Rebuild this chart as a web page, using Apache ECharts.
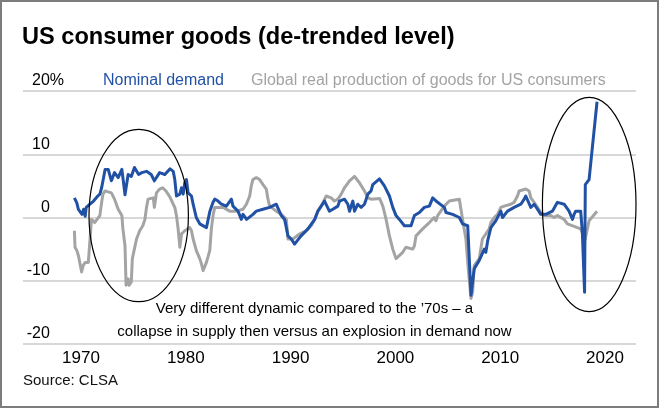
<!DOCTYPE html>
<html>
<head>
<meta charset="utf-8">
<script src="https://cdn.jsdelivr.net/npm/echarts@6/dist/echarts.min.js"></script>
<style>
  html, body { margin: 0; padding: 0; background: #ffffff; }
  #chart { width: 660px; height: 409px; }
</style>
</head>
<body>
<div id="chart"></div>
<script>
// ---- Data ----
const titleText = 'US consumer goods (de-trended level)';
const seriesNames = ['Nominal demand', 'Global real production of goods for US consumers'];
const xTickValues = [1970, 1980, 1990, 2000, 2010, 2020];
const yTickMin = -20, yTickMax = 20, yTickStep = 10;

const nominalYears = [
  1969.37, 1969.6, 1969.75, 1969.9, 1970.1, 1970.25, 1970.4, 1970.5, 1970.85, 1971.2,
  1971.6, 1971.8, 1971.97, 1972.3, 1972.6, 1972.9, 1973.2, 1973.55, 1973.9, 1974.2,
  1974.5, 1974.8, 1975.1, 1975.5, 1975.8, 1976.25, 1976.7, 1977.0, 1977.5, 1978.0,
  1978.5, 1978.8, 1978.95, 1979.11, 1979.43, 1979.59, 1979.75, 1979.9, 1980.06, 1980.22,
  1980.54, 1980.7, 1981.0, 1981.33, 1981.97, 1982.3, 1982.6, 1982.76, 1983.08, 1983.4,
  1983.87, 1984.35, 1984.5, 1984.98, 1985.3, 1985.46, 1985.8, 1986.41, 1986.73, 1987.36,
  1988.0, 1988.63, 1988.8, 1989.11, 1989.43, 1989.75, 1990.06, 1990.38, 1990.54, 1991.0,
  1991.65, 1992.3, 1992.6, 1992.92, 1993.24, 1993.4, 1993.7, 1994.03, 1994.51, 1994.67,
  1995.14, 1995.46, 1995.62, 1995.94, 1996.1, 1996.41, 1996.73, 1996.9, 1997.05, 1997.37,
  1997.68, 1997.84, 1998.48, 1998.95, 1999.43, 1999.75, 2000.06, 2000.38, 2000.86, 2001.49,
  2001.81, 2002.29, 2002.76, 2003.24, 2003.56, 2004.03, 2004.67, 2004.83, 2005.46, 2006.1,
  2006.41, 2006.9, 2007.05, 2007.21, 2007.52, 2008.0, 2008.48, 2008.63, 2008.8, 2009.11,
  2009.59, 2010.06, 2010.22, 2010.7, 2011.33, 2011.49, 2011.97, 2012.29, 2012.44, 2012.92,
  2013.24, 2013.56, 2013.87, 2014.35, 2014.98, 2015.46, 2015.62, 2016.1, 2016.57, 2016.9,
  2017.05, 2017.2, 2017.68, 2017.84, 2018.05, 2018.12, 2018.48, 2019.24
];
const nominalValues = [
  3.1, 2.3, 1.3, 1.0, 0.5, 1.3, 0.2, 1.6, 2.1, 2.6,
  3.4, 3.7, 4.7, 7.6, 7.6, 5.8, 7.1, 6.3, 7.6, 3.6,
  6.8, 6.5, 7.9, 6.8, 7.1, 7.3, 6.8, 5.8, 7.1, 6.8,
  7.7, 7.3, 6.0, 3.4, 3.7, 4.7, 3.7, 5.5, 6.0, 3.9,
  3.4, 2.1, 0.0, -1.0, -1.6, 1.0, 2.4, 2.9, 2.6, 2.1,
  1.8, 2.9, 1.8, 1.0, -0.3, 0.5, -0.3, 0.5, 1.0, 1.3,
  1.6, 2.1, 1.8, 0.3, -0.3, -2.9, -3.4, -4.2, -4.5, -2.9,
  -1.8, -0.3, 1.0, 1.8, 2.6, 2.9, 1.0, 1.3, 1.8, 2.6,
  2.9, 2.1, 1.0, 2.6, 1.0, 2.1, 1.6, 1.3, 2.1, 3.7,
  4.2, 5.2, 6.1, 5.0, 3.4, 1.6, 0.3, -0.3, -1.3, -1.3,
  0.3, 0.8, 1.6, 1.8, 3.1, 2.4, 1.6, 0.8, 0.5, 0.0,
  -1.0, -1.3, -6.5, -12.3, -8.1, -6.8, -5.0, -5.5, -3.7, -1.6,
  -0.5, 1.0, 0.0, 1.0, 1.6, 1.3, 2.1, 2.9, 3.4, 1.6,
  2.1, 1.3, 0.5, 0.5, 1.0, 2.4, 2.6, 2.1, 1.0, -0.3,
  0.5, 1.0, 1.0, -2.4, -11.8, 5.2, 6.0, 18.3
];

const productionYears = [
  1969.37, 1969.43, 1969.6, 1969.75, 1970.06, 1970.2, 1970.4, 1970.7, 1970.86, 1971.0,
  1971.3, 1971.8, 1971.97, 1972.1, 1972.3, 1972.9, 1973.2, 1973.55, 1973.9, 1974.0,
  1974.2, 1974.3, 1974.5, 1974.6, 1974.8, 1974.9, 1975.3, 1975.6, 1975.9, 1976.1,
  1976.25, 1976.4, 1976.9, 1977.0, 1977.2, 1977.5, 1977.8, 1978.1, 1978.5, 1978.8,
  1978.95, 1979.11, 1979.27, 1979.43, 1979.59, 1979.9, 1980.38, 1980.54, 1980.7, 1981.0,
  1981.33, 1981.49, 1981.65, 1981.97, 1982.13, 1982.29, 1982.44, 1982.6, 1982.76, 1982.92,
  1983.56, 1984.19, 1984.83, 1985.46, 1985.78, 1986.1, 1986.25, 1986.4, 1986.73, 1987.05,
  1987.37, 1987.68, 1987.84, 1988.0, 1988.63, 1989.11, 1989.59, 1989.75, 1990.22, 1990.86,
  1991.49, 1991.97, 1992.3, 1992.6, 1992.92, 1993.4, 1993.87, 1994.19, 1994.51, 1994.83,
  1995.14, 1995.62, 1996.1, 1996.57, 1997.05, 1997.37, 1997.68, 1998.5, 1998.8, 1998.95,
  1999.11, 1999.43, 1999.75, 2000.06, 2000.7, 2001.0, 2001.65, 2001.81, 2001.97, 2002.6,
  2003.24, 2003.7, 2003.87, 2004.03, 2004.67, 2005.14, 2006.1, 2006.41, 2006.73, 2006.9,
  2007.21, 2007.37, 2007.52, 2008.0, 2008.3, 2008.95, 2009.11, 2009.43, 2009.75, 2010.06,
  2010.38, 2011.0, 2011.33, 2011.65, 2011.81, 2012.44, 2012.76, 2012.92, 2013.24, 2013.56,
  2013.87, 2014.19, 2014.83, 2015.14, 2015.46, 2016.1, 2016.41, 2016.57, 2017.37, 2017.68,
  2018.1, 2018.48, 2019.24
];
const productionValues = [
  -2.1, -4.7, -5.2, -6.0, -8.6, -7.6, -7.1, -7.1, -6.8, -0.3,
  -0.8, 0.3, 2.4, 3.7, 4.2, 3.9, 2.9, 1.3, 0.3, -1.8,
  -4.5, -10.7, -9.7, -10.7, -10.2, -6.5, -3.4, -2.1, -1.3, -0.3,
  1.6, 2.9, 3.1, 1.6, 3.9, 4.5, 4.7, 4.2, 3.2, 2.1,
  1.6, 0.3, -1.8, -4.7, -2.6, -2.1, -1.6, -2.1, -3.4, -5.2,
  -6.5, -7.3, -8.4, -7.1, -6.8, -5.2, -1.8, 0.3, 1.6, 1.8,
  1.6, 1.0, 1.0, 1.3, 2.1, 3.4, 5.0, 6.0, 6.3, 6.0,
  5.2, 4.5, 2.9, 1.8, 1.0, 0.5, -0.3, -3.4, -3.4, -2.6,
  -2.1, -1.3, -0.3, 1.0, 1.8, 3.4, 3.1, 2.6, 2.9, 3.7,
  4.7, 5.8, 6.5, 5.5, 4.2, 3.1, 2.9, 3.0, 1.8, 0.8,
  -0.3, -2.9, -5.0, -6.5, -5.5, -4.7, -5.0, -4.5, -2.9, -1.8,
  -0.8, 0.0, -0.5, 0.3, 1.8, 2.6, 2.9, -0.3, -3.4, -7.1,
  -12.8, -11.8, -7.6, -6.5, -3.4, -1.8, -0.8, 0.0, 0.5, 1.6,
  1.8, 2.1, 2.4, 3.4, 4.2, 4.5, 4.2, 3.1, 2.4, 1.6,
  0.8, 0.3, 0.3, 0.0, 0.3, -0.3, -1.0, -1.3, -1.6, -1.8,
  -3.5, -0.5, 1.0
];

const noteLines = [
  'Very different dynamic compared to the \u201970s \u2013 a',
  'collapse in supply then versus an explosion in demand now'
];
const sourceText = 'Source: CLSA';

// ---- Build ----
const zip = (xs, ys) => xs.map((x, i) => [x, ys[i]]);
const BLUE = '#2151a4';
const GREY = '#a4a4a4';
const FONT = "'Liberation Sans', Arial, sans-serif";

const chart = echarts.init(document.getElementById('chart'), null, { renderer: 'canvas' });

const option = {
  animation: false,
  backgroundColor: '#ffffff',
  textStyle: { fontFamily: FONT },
  title: {
    text: titleText,
    left: 22, top: 25, padding: 0,
    textStyle: { fontFamily: FONT, fontSize: 23.6, fontWeight: 'bold', color: '#000' }
  },
  legend: {
    left: 98, top: 73, padding: 0,
    itemWidth: 0, itemHeight: 0, itemGap: 22,
    icon: 'none',
    selectedMode: false,
    textStyle: { fontFamily: FONT, fontSize: 16 },
    data: [
      { name: seriesNames[0], textStyle: { color: BLUE } },
      { name: seriesNames[1], textStyle: { color: '#a3a3a3' } }
    ]
  },
  grid: { left: 23, right: 24, top: 91, bottom: 65 },
  xAxis: {
    type: 'value',
    min: 1964.466, max: 2022.958,
    axisLine: { show: false },
    axisTick: { show: false },
    splitLine: { show: false },
    axisLabel: {
      customValues: xTickValues,
      formatter: v => String(v),
      margin: 6,
      fontSize: 17, color: '#000', fontFamily: FONT
    }
  },
  yAxis: {
    type: 'value',
    min: yTickMin, max: yTickMax, interval: yTickStep,
    axisLine: { show: false },
    axisTick: { show: false },
    splitLine: { lineStyle: { color: '#cbcbcb', width: 1.5 } },
    axisLabel: {
      inside: true,
      margin: 41,
      align: 'right',
      verticalAlign: 'bottom',
      padding: [0, 0, 2, 0],
      fontSize: 16, color: '#000', fontFamily: FONT,
      formatter: v => v === yTickMax ? '{n|' + v + '%}' : '{n|' + v + '}{h|%}',
      rich: {
        n: { fontSize: 16, color: '#000', fontFamily: FONT },
        h: { fontSize: 16, color: 'rgba(0,0,0,0)', fontFamily: FONT }
      }
    }
  },
  series: [
    {
      name: seriesNames[1], type: 'line', symbol: 'none', showSymbol: false,
      data: zip(productionYears, productionValues),
      lineStyle: { color: GREY, width: 3, join: 'round' },
      itemStyle: { color: GREY }, z: 2
    },
    {
      name: seriesNames[0], type: 'line', symbol: 'none', showSymbol: false,
      data: zip(nominalYears, nominalValues),
      lineStyle: { color: BLUE, width: 3, join: 'round' },
      itemStyle: { color: BLUE }, z: 3
    }
  ],
  graphic: [
    { type: 'rect', shape: { x: 1, y: 1, width: 657, height: 406 }, style: { fill: null, stroke: '#7c7c7c', lineWidth: 2 }, silent: true, z: 100 },
    { type: 'ellipse', shape: { cx: 138.7, cy: 215.5, rx: 49.7, ry: 86.2 }, style: { fill: null, stroke: '#000', lineWidth: 1.2 }, silent: true, z: 50 },
    { type: 'ellipse', shape: { cx: 589.2, cy: 204.5, rx: 46.8, ry: 107.2 }, style: { fill: null, stroke: '#000', lineWidth: 1.2 }, silent: true, z: 50 },
    { type: 'text', x: 314.5, y: 309, style: { text: noteLines[0], font: '15px ' + FONT, fill: '#000', align: 'center', verticalAlign: 'middle' }, z: 60 },
    { type: 'text', x: 314.5, y: 332, style: { text: noteLines[1], font: '15px ' + FONT, fill: '#000', align: 'center', verticalAlign: 'middle' }, z: 60 },
    { type: 'text', x: 23, y: 381, style: { text: sourceText, font: '15px ' + FONT, fill: '#111', align: 'left', verticalAlign: 'middle' }, z: 60 }
  ]
};
chart.setOption(option);
</script>
</body>
</html>
